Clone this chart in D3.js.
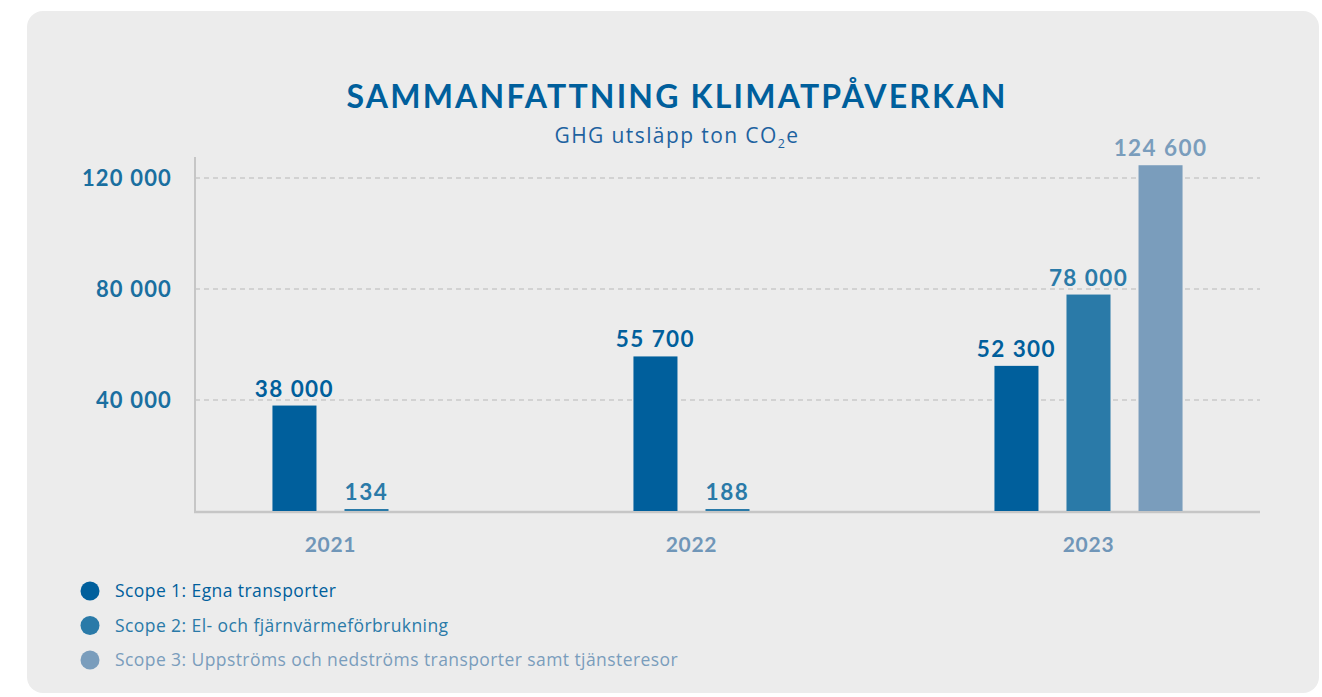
<!DOCTYPE html>
<html><head><meta charset="utf-8">
<script src="https://cdn.jsdelivr.net/npm/d3@7"></script>
<style>html,body{margin:0;padding:0;background:#fff;}svg{display:block;font-family:Lato,"Open Sans",sans-serif;}</style>
</head><body>
<svg id="chart" width="1322" height="697"></svg>
<script>
const years = ["2021", "2022", "2023"];
const scopes = ["Scope 1", "Scope 2", "Scope 3"];
const scope1 = [38000, 55700, 52300];
const scope2 = [134, 188, 78000];
const scope3 = [null, null, 124600];
const valueLabels1 = ["38 000", "55 700", "52 300"];
const valueLabels2 = ["134", "188", "78 000"];
const valueLabels3 = [null, null, "124 600"];
const yTicks = [40000, 80000, 120000];
const yTickLabels = ["40 000", "80 000", "120 000"];
const legendLabels = ["Scope 1: Egna transporter", "Scope 2: El- och fjärnvärmeförbrukning", "Scope 3: Uppströms och nedströms transporter samt tjänsteresor"];
const colors = ["#005f9c", "#2a7aa8", "#7a9dbc"];
const titleText = "SAMMANFATTNING KLIMATPÅVERKAN";

// widen text via letter-spacing so that it spans `factor` times its natural width
function widen(sel, factor) {
  sel.each(function () {
    const w = this.getComputedTextLength();
    const n = this.textContent.length;
    if (n > 1) d3.select(this).attr("letter-spacing", (w * (factor - 1)) / n);
  });
}

const svg = d3.select("#chart");
svg.append("rect").attr("x", 27).attr("y", 11).attr("width", 1292).attr("height", 682).attr("rx", 16).attr("fill", "#ececec");

const y = d3.scaleLinear().domain([0, 40000]).range([511, 400]);
const x0 = d3.scaleBand().domain(years).range([186, 1269]);
const x1 = d3.scaleBand().domain(scopes).range([0, x0.bandwidth()]).paddingInner(28/72).paddingOuter(1.2);

// gridlines
svg.append("g").selectAll("line").data(yTicks).join("line")
  .attr("x1", 195).attr("x2", 1260).attr("y1", d => y(d)).attr("y2", d => y(d))
  .attr("stroke", "#c9c9c9").attr("stroke-width", 1.3).attr("stroke-dasharray", "5,4");

// axis lines
svg.append("line").attr("x1", 195).attr("x2", 195).attr("y1", 157).attr("y2", y(0) + 1).attr("stroke", "#c6c6c6").attr("stroke-width", 2);
svg.append("line").attr("x1", 194).attr("x2", 1260).attr("y1", y(0) + 1).attr("y2", y(0) + 1).attr("stroke", "#c6c6c6").attr("stroke-width", 2.4);

// y ticks labels
const yAxis = d3.axisLeft(y).tickValues(yTicks).tickSize(0).tickPadding(0).tickFormat((d, i) => yTickLabels[i]);
const ya = svg.append("g").attr("transform", "translate(172,0)").call(yAxis);
ya.select(".domain").remove();
ya.selectAll("text").attr("font-family", "Lato, sans-serif").attr("font-size", 22).attr("font-weight", 700).attr("fill", "#1a6fa0").attr("dy", "0.36em")
  .call(widen, 1.10);

const series = [scope1, scope2, scope3];
const labels = [valueLabels1, valueLabels2, valueLabels3];
const data = [];
series.forEach((s, si) => s.forEach((v, yi) => { if (v != null) data.push({year: years[yi], scope: scopes[si], si, v, label: labels[si][yi]}); }));

const bars = svg.append("g");
bars.selectAll("rect").data(data).join("rect")
  .attr("x", d => x0(d.year) + x1(d.scope))
  .attr("width", x1.bandwidth())
  .attr("y", d => Math.min(y(d.v), y(0) - 2))
  .attr("height", d => Math.max(y(0) - y(d.v), 2))
  .attr("fill", d => colors[d.si]);

bars.selectAll("text").data(data).join("text")
  .attr("x", d => x0(d.year) + x1(d.scope) + x1.bandwidth() / 2)
  .attr("y", d => Math.min(y(d.v), y(0) - 2) - 9)
  .attr("text-anchor", "middle")
  .attr("font-size", 22.5).attr("font-weight", 700)
  .attr("fill", d => colors[d.si])
  .text(d => d.label)
  .call(widen, 1.12);

// year labels centered under present bars
svg.append("g").selectAll("text").data(years).join("text")
  .attr("x", yr => { const ds = data.filter(d => d.year === yr); return d3.mean(ds, d => x0(d.year) + x1(d.scope) + x1.bandwidth() / 2); })
  .attr("y", 552).attr("text-anchor", "middle")
  .attr("font-size", 21).attr("font-weight", 700).attr("fill", "#7096b8")
  .text(d => d)
  .call(widen, 1.06);

// title
const title = svg.append("text").attr("x", 677).attr("y", 108).attr("text-anchor", "middle")
  .attr("font-size", 32).attr("font-weight", 700).attr("fill", "#005f9c")
  .text(titleText);
{
  const w = title.node().getComputedTextLength();
  title.attr("letter-spacing", (661 - w) / titleText.length);
}
const sub = svg.append("text").attr("x", 677).attr("y", 143).attr("text-anchor", "middle")
  .attr("font-family", "'Open Sans', sans-serif").attr("font-size", 21).attr("fill", "#1d62a0");
sub.append("tspan").text("GHG utsläpp ton CO");
sub.append("tspan").attr("font-size", 12.5).attr("dy", 5).text("2");
sub.append("tspan").attr("dy", -5).text("e");
{
  const w = sub.node().getComputedTextLength();
  sub.attr("letter-spacing", Math.max(0, (245 - w) / 20));
}

// legend
const lg = svg.append("g").selectAll("g").data(legendLabels).join("g")
  .attr("transform", (d, i) => `translate(90,${591 + i * 34.5})`);
lg.append("circle").attr("r", 9.5).attr("fill", (d, i) => colors[i]);
const lt = lg.append("text").attr("x", 25).attr("dy", "0.35em").attr("font-family", "'Open Sans', sans-serif").attr("font-size", 17.5).attr("fill", (d, i) => colors[i]).text(d => d);
{
  const last = lt.nodes()[2];
  const w = last.getComputedTextLength();
  const ls = Math.max(0, (563 - w) / legendLabels[2].length);
  lt.attr("letter-spacing", ls);
}
</script>
</body></html>
